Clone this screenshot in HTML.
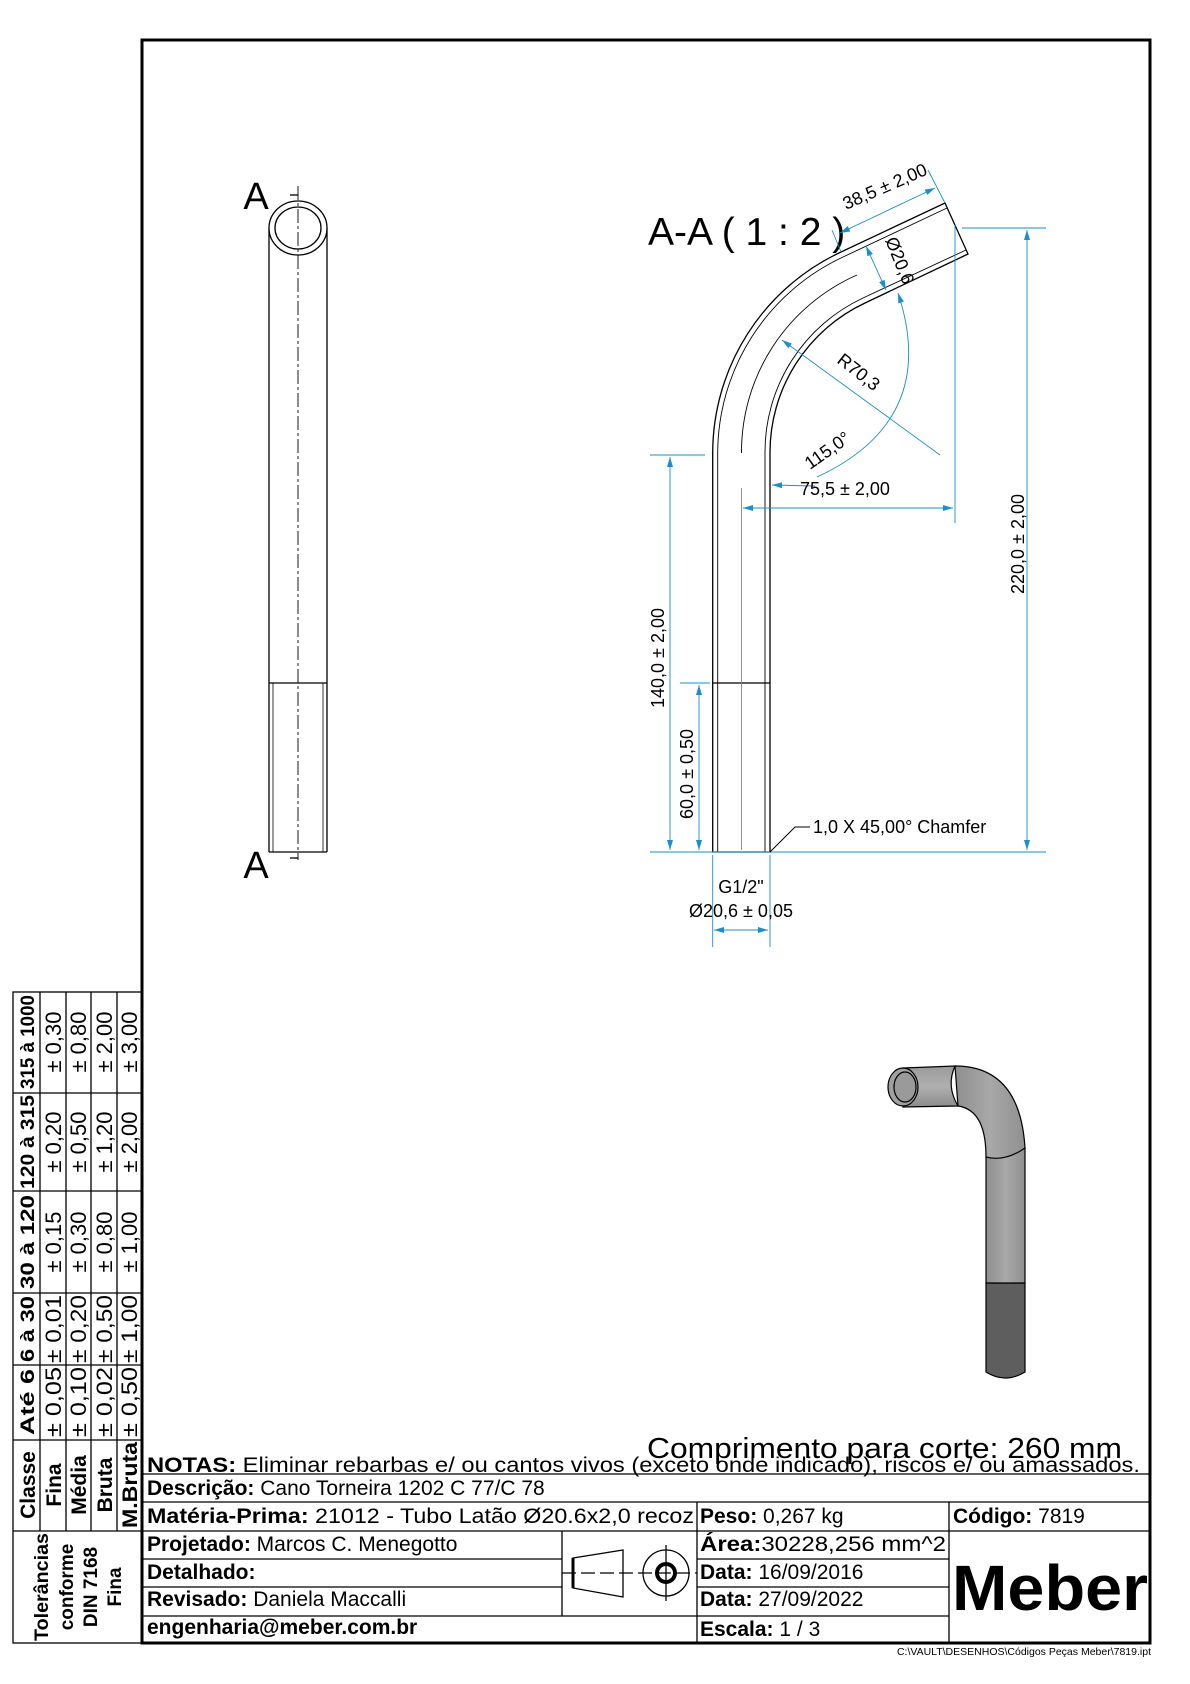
<!DOCTYPE html>
<html><head><meta charset="utf-8"><style>
html,body{margin:0;padding:0;background:#fff;}
svg{display:block;}
text{font-family:"Liberation Sans",sans-serif;}
</style></head><body>
<svg width="1190" height="1684" viewBox="0 0 1190 1684" xmlns="http://www.w3.org/2000/svg">
<defs>
<marker id="ar" viewBox="0 0 10 6" refX="10" refY="3" markerWidth="10" markerHeight="6" orient="auto-start-reverse" markerUnits="userSpaceOnUse"><path d="M0,0 L10,3 L0,6 z" fill="#1a8fc9"/></marker>
<linearGradient id="g3" x1="0" x2="1" y1="0" y2="0"><stop offset="0" stop-color="#8e8e8e"/><stop offset="0.5" stop-color="#a8a8a8"/><stop offset="1" stop-color="#909090"/></linearGradient>
<linearGradient id="gh" x1="0" x2="0" y1="0" y2="1"><stop offset="0" stop-color="#9a9a9a"/><stop offset="0.5" stop-color="#b0b0b0"/><stop offset="1" stop-color="#8c8c8c"/></linearGradient>
</defs>
<rect x="142" y="40" width="1008" height="1603" fill="none" stroke="#000" stroke-width="3"/>

<!-- LEFT VIEW -->
<g stroke="#000" fill="none" stroke-width="1.3">
<line x1="269" y1="228" x2="269" y2="852"/>
<line x1="327" y1="228" x2="327" y2="852"/>
<line x1="269" y1="683" x2="327" y2="683"/>
<line x1="269" y1="852" x2="327" y2="852"/>
<line x1="273" y1="683" x2="273" y2="852" stroke-width="0.8"/>
<line x1="323" y1="683" x2="323" y2="852" stroke-width="0.8"/>
<ellipse cx="298" cy="228" rx="29" ry="27" fill="#fff"/>
<ellipse cx="298" cy="228" rx="23" ry="21"/>
<line x1="298" y1="186" x2="298" y2="860" stroke-dasharray="14,3,3,3" stroke-width="0.9"/>
<line x1="290" y1="195" x2="298" y2="195"/>
<line x1="290" y1="858" x2="298" y2="858"/>
</g>
<text x="256" y="209" font-size="38" text-anchor="middle">A</text>
<text x="256" y="878" font-size="38" text-anchor="middle">A</text>

<!-- SECTION VIEW -->
<text x="648" y="245" font-size="39">A-A ( 1 : 2 )</text>
<g stroke="#000" fill="none" stroke-width="1.3">
<path d="M712.7,852 L712.7,453 A222,222 0 0 1 841,252 L945,203 L968,254 L865,303 A165,165 0 0 0 770,453 L770,852 Z"/>
<path d="M717.7,852 L717.7,453 A217,217 0 0 1 843,257" stroke-width="0.9"/>
<path d="M765,852 L765,453 A170,170 0 0 1 863,298" stroke-width="0.9"/>
<line x1="843" y1="257" x2="947" y2="208" stroke-width="0.9"/>
<line x1="863" y1="298" x2="966" y2="250" stroke-width="0.9"/>
<line x1="712.7" y1="683" x2="770" y2="683"/>
<path d="M741.5,453 A193.5,193.5 0 0 1 857,275" stroke-width="0.9"/>
</g>
<line x1="741.5" y1="488" x2="741.5" y2="850" stroke="#777" stroke-width="0.8"/>
<g stroke="#1a8fc9" fill="none" stroke-width="0.9">
<line x1="650" y1="852" x2="1046" y2="852"/>
<line x1="962" y1="228" x2="1046" y2="228"/>
<line x1="1027" y1="230" x2="1027" y2="850" marker-start="url(#ar)" marker-end="url(#ar)"/>
<line x1="955" y1="225" x2="955" y2="523"/>
<line x1="743" y1="508" x2="953" y2="508" marker-start="url(#ar)" marker-end="url(#ar)"/>
<line x1="815" y1="486" x2="772" y2="485" marker-end="url(#ar)"/>
<line x1="650" y1="455" x2="705" y2="455"/>
<line x1="670" y1="457" x2="670" y2="850" marker-start="url(#ar)" marker-end="url(#ar)"/>
<line x1="680" y1="683" x2="710" y2="683"/>
<line x1="699" y1="685" x2="699" y2="850" marker-start="url(#ar)" marker-end="url(#ar)"/>
<line x1="712.7" y1="855" x2="712.7" y2="947"/>
<line x1="770" y1="855" x2="770" y2="947"/>
<line x1="714" y1="930" x2="768" y2="930" marker-start="url(#ar)" marker-end="url(#ar)"/>
<line x1="940" y1="455" x2="782" y2="340" marker-end="url(#ar)"/>
<path d="M817,477 Q 940,420 898,293" marker-end="url(#ar)"/>
<line x1="866" y1="246" x2="886" y2="290" marker-start="url(#ar)" marker-end="url(#ar)"/>
<line x1="840" y1="233" x2="935" y2="188" marker-start="url(#ar)" marker-end="url(#ar)"/>
<line x1="945" y1="203" x2="928" y2="170"/>
<line x1="841" y1="252" x2="832" y2="230"/>
</g>
<path d="M770,852 L795,827 L810,827" stroke="#000" fill="none" stroke-width="1"/>
<g font-size="18" fill="#000">
<text x="813" y="833">1,0 X 45,00° Chamfer</text>
<text x="800" y="495">75,5 ± 2,00</text>
<text x="741" y="893" text-anchor="middle">G1/2"</text>
<text x="741" y="917" text-anchor="middle">Ø20,6 ± 0,05</text>
<text transform="translate(1024,544) rotate(-90)" text-anchor="middle">220,0 ± 2,00</text>
<text transform="translate(664,658) rotate(-90)" text-anchor="middle">140,0 ± 2,00</text>
<text transform="translate(693,774) rotate(-90)" text-anchor="middle">60,0 ± 0,50</text>
<text transform="translate(836,362) rotate(38)">R70,3</text>
<text transform="translate(810,470) rotate(-35)">115,0°</text>
<text transform="translate(885,240) rotate(68)">Ø20,6</text>
<text transform="translate(846,210) rotate(-23.5)">38,5 ± 2,00</text>
</g>

<!-- 3D VIEW -->
<g stroke="#000" stroke-width="1.2">
<path d="M986,1283 L986,1372 Q1005,1384 1025,1372 L1025,1283 Z" fill="#5e5e5e"/>
<path d="M986,1157 L986,1283 L1025,1283 L1025,1148 Z" fill="url(#g3)"/>
<path d="M955,1066 Q1020,1066 1025,1148 Q1005,1162 986,1157 Q986,1110 958,1106 Z" fill="url(#g3)"/>
<path d="M903,1068 L955,1066 Q946,1086 958,1106 L903,1107 Z" fill="url(#gh)"/>
<ellipse cx="903" cy="1087" rx="15" ry="19" fill="#a0a0a0"/>
<ellipse cx="905" cy="1087" rx="11" ry="15" fill="#9a9a9a"/>
</g>

<text x="647" y="1458" font-size="29" textLength="475" lengthAdjust="spacingAndGlyphs">Comprimento para corte: 260 mm</text>

<!-- TITLE BLOCK -->
<g stroke="#000" stroke-width="1.3" fill="none">
<line x1="142" y1="1474" x2="1150" y2="1474"/>
<line x1="142" y1="1502" x2="1150" y2="1502"/>
<line x1="142" y1="1531" x2="1150" y2="1531"/>
<line x1="142" y1="1559" x2="562" y2="1559"/>
<line x1="697" y1="1559" x2="949" y2="1559"/>
<line x1="142" y1="1587" x2="562" y2="1587"/>
<line x1="697" y1="1587" x2="949" y2="1587"/>
<line x1="142" y1="1616" x2="949" y2="1616"/>
<line x1="697" y1="1502" x2="697" y2="1643"/>
<line x1="949" y1="1502" x2="949" y2="1643"/>
<line x1="562" y1="1531" x2="562" y2="1616"/>
</g>
<g font-size="21">
<text x="147" y="1472" textLength="993" lengthAdjust="spacingAndGlyphs"><tspan font-weight="bold">NOTAS:</tspan> Eliminar rebarbas e/ ou cantos vivos (exceto onde indicado), riscos e/ ou amassados.</text>
<text x="147" y="1495"><tspan font-weight="bold">Descrição:</tspan> Cano Torneira 1202 C 77/C 78</text>
<text x="147" y="1523" textLength="547" lengthAdjust="spacingAndGlyphs"><tspan font-weight="bold">Matéria-Prima:</tspan> 21012 - Tubo Latão Ø20.6x2,0 recoz</text>
<text x="700" y="1523"><tspan font-weight="bold">Peso:</tspan> 0,267 kg</text>
<text x="953" y="1523"><tspan font-weight="bold">Código:</tspan> 7819</text>
<text x="147" y="1551"><tspan font-weight="bold">Projetado:</tspan> Marcos C. Menegotto</text>
<text x="147" y="1579" font-weight="bold">Detalhado:</text>
<text x="147" y="1606"><tspan font-weight="bold">Revisado:</tspan> Daniela Maccalli</text>
<text x="147" y="1634" font-weight="bold">engenharia@meber.com.br</text>
<text x="700" y="1551" textLength="246" lengthAdjust="spacingAndGlyphs"><tspan font-weight="bold">Área:</tspan>30228,256 mm^2</text>
<text x="700" y="1579"><tspan font-weight="bold">Data:</tspan> 16/09/2016</text>
<text x="700" y="1606"><tspan font-weight="bold">Data:</tspan> 27/09/2022</text>
<text x="700" y="1636"><tspan font-weight="bold">Escala:</tspan> 1 / 3</text>
</g>
<text x="952" y="1610" font-size="64" font-weight="bold" textLength="196" lengthAdjust="spacingAndGlyphs">Meber</text>
<text x="1151" y="1655" font-size="10.5" text-anchor="end">C:\VAULT\DESENHOS\Códigos Peças Meber\7819.ipt</text>
<g stroke="#000" fill="none" stroke-width="1.3">
<path d="M573,1558 L623,1550 L623,1597 L573,1588 Z"/>
<line x1="573" y1="1558" x2="573" y2="1588" stroke-width="3"/>
<line x1="562" y1="1573" x2="697" y2="1573" stroke-dasharray="14,5"/>
<circle cx="666" cy="1573" r="23"/>
<circle cx="666" cy="1573" r="9" stroke-width="4"/>
<line x1="666" y1="1545" x2="666" y2="1601"/>
</g>

<!-- TOLERANCE TABLE -->
<g stroke="#000" stroke-width="1.3" fill="none">
<rect x="13" y="992" width="129" height="651"/>
<line x1="40" y1="992" x2="40" y2="1531"/>
<line x1="66" y1="992" x2="66" y2="1531"/>
<line x1="91" y1="992" x2="91" y2="1531"/>
<line x1="117" y1="992" x2="117" y2="1531"/>
<line x1="13" y1="1093" x2="142" y2="1093"/>
<line x1="13" y1="1191" x2="142" y2="1191"/>
<line x1="13" y1="1293" x2="142" y2="1293"/>
<line x1="13" y1="1365" x2="142" y2="1365"/>
<line x1="13" y1="1440" x2="142" y2="1440"/>
<line x1="13" y1="1531" x2="142" y2="1531"/>
</g>
<g font-size="22" text-anchor="middle">
<g font-weight="bold" font-size="19">
<text transform="translate(34,1042) rotate(-90)" textLength="94" lengthAdjust="spacingAndGlyphs">315 à 1000</text>
<text transform="translate(34,1142) rotate(-90)" textLength="94" lengthAdjust="spacingAndGlyphs">120 à 315</text>
<text transform="translate(34,1242) rotate(-90)" textLength="94" lengthAdjust="spacingAndGlyphs">30 à 120</text>
<text transform="translate(34,1329) rotate(-90)" textLength="66" lengthAdjust="spacingAndGlyphs">6 à 30</text>
<text transform="translate(34,1402) rotate(-90)" textLength="66" lengthAdjust="spacingAndGlyphs">Até 6</text>
<text transform="translate(35,1485) rotate(-90)" font-size="21">Classe</text>
<text transform="translate(61,1485) rotate(-90)" font-size="21">Fina</text>
<text transform="translate(86,1485) rotate(-90)" font-size="21">Média</text>
<text transform="translate(112,1485) rotate(-90)" font-size="21">Bruta</text>
<text transform="translate(137,1485) rotate(-90)" font-size="21" textLength="86" lengthAdjust="spacingAndGlyphs">M.Bruta</text>
</g>
<g>
<text transform="translate(61,1042) rotate(-90)">± 0,30</text>
<text transform="translate(86,1042) rotate(-90)">± 0,80</text>
<text transform="translate(112,1042) rotate(-90)">± 2,00</text>
<text transform="translate(137,1042) rotate(-90)">± 3,00</text>
<text transform="translate(61,1142) rotate(-90)">± 0,20</text>
<text transform="translate(86,1142) rotate(-90)">± 0,50</text>
<text transform="translate(112,1142) rotate(-90)">± 1,20</text>
<text transform="translate(137,1142) rotate(-90)">± 2,00</text>
<text transform="translate(61,1242) rotate(-90)">± 0,15</text>
<text transform="translate(86,1242) rotate(-90)">± 0,30</text>
<text transform="translate(112,1242) rotate(-90)">± 0,80</text>
<text transform="translate(137,1242) rotate(-90)">± 1,00</text>
<text transform="translate(61,1329) rotate(-90)" textLength="68" lengthAdjust="spacingAndGlyphs">± 0,01</text>
<text transform="translate(86,1329) rotate(-90)" textLength="68" lengthAdjust="spacingAndGlyphs">± 0,20</text>
<text transform="translate(112,1329) rotate(-90)" textLength="68" lengthAdjust="spacingAndGlyphs">± 0,50</text>
<text transform="translate(137,1329) rotate(-90)" textLength="68" lengthAdjust="spacingAndGlyphs">± 1,00</text>
<text transform="translate(61,1402) rotate(-90)" textLength="70" lengthAdjust="spacingAndGlyphs">± 0,05</text>
<text transform="translate(86,1402) rotate(-90)" textLength="70" lengthAdjust="spacingAndGlyphs">± 0,10</text>
<text transform="translate(112,1402) rotate(-90)" textLength="70" lengthAdjust="spacingAndGlyphs">± 0,02</text>
<text transform="translate(137,1402) rotate(-90)" textLength="70" lengthAdjust="spacingAndGlyphs">± 0,50</text>
</g>
<g font-weight="bold" font-size="19">
<text transform="translate(48,1587) rotate(-90)" textLength="108" lengthAdjust="spacingAndGlyphs">Tolerâncias</text>
<text transform="translate(73,1587) rotate(-90)">conforme</text>
<text transform="translate(97,1587) rotate(-90)">DIN 7168</text>
<text transform="translate(121,1587) rotate(-90)">Fina</text>
</g>
</g>
</svg>
</body></html>
